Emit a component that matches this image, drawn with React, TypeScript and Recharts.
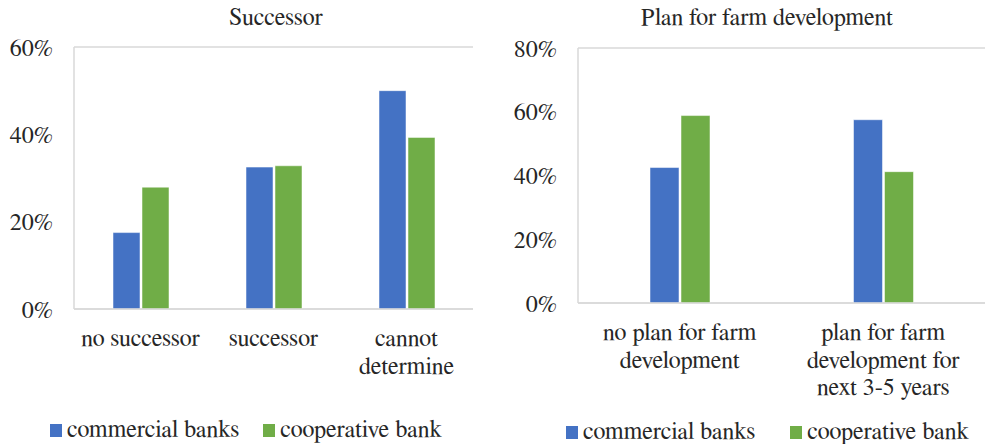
import React from 'react';
import { BarChart, Bar, XAxis, YAxis, CartesianGrid } from 'recharts';

const seriesNames = ['commercial banks', 'cooperative bank'];
const seriesColors = ['#4472C4', '#70AD47'];

const successorCategories = ['no successor', 'successor', 'cannot\ndetermine'];
const successorCommercial = [17.5, 32.5, 50.0];
const successorCooperative = [27.9, 32.8, 39.3];
const successorTicks = [0, 20, 40, 60];

const planCategories = ['no plan for farm\ndevelopment', 'plan for farm\ndevelopment for\nnext 3-5 years'];
const planCommercial = [42.5, 57.5];
const planCooperative = [58.8, 41.2];
const planTicks = [0, 20, 40, 60, 80];

const FONT = 'FreeSerif, "Liberation Serif", "Times New Roman", serif';
const TEXT = '#262626';
const GRID = '#d9d9d9';

const build = (cats: string[], a: number[], b: number[]) =>
  cats.map((name, i) => ({ name, commercial: a[i], cooperative: b[i] }));

const successorData = build(successorCategories, successorCommercial, successorCooperative);
const planData = build(planCategories, planCommercial, planCooperative);

const CategoryTick = (props: any) => {
  const { x, y, payload, first } = props;
  const lines = String(payload.value).split('\n');
  return (
    <text x={x} y={y + first} textAnchor="middle" fill={TEXT} fontSize={24} fontFamily={FONT}>
      {lines.map((l, i) => (
        <tspan key={i} x={x} dy={i === 0 ? 0 : 27.5}>
          {l}
        </tspan>
      ))}
    </text>
  );
};

const LegendRow = ({ left, top, gap }: { left: number; top: number; gap: number }) => (
  <div style={{ position: 'absolute', left, top, display: 'flex', alignItems: 'center', fontFamily: FONT, fontSize: 24, color: TEXT, whiteSpace: 'nowrap' }}>
    {seriesNames.map((n, i) => (
      <div key={n} style={{ display: 'flex', alignItems: 'center', marginRight: gap }}>
        <span style={{ display: 'inline-block', width: 12, height: 13, background: seriesColors[i], marginRight: 5 }} />
        <span>{n}</span>
      </div>
    ))}
  </div>
);

const Title = ({ text, center }: { text: string; center: number }) => (
  <div style={{ position: 'absolute', left: center - 200, width: 400, top: 5, textAlign: 'center', fontFamily: FONT, fontSize: 24, color: TEXT }}>
    {text}
  </div>
);

const Panel = ({ data, ticks, max, barSize, yWidth, margin, width, bottomPad, firstLine }: any) => (
  <BarChart width={width} height={444} data={data} margin={margin} barGap={2} barSize={barSize}>
    <CartesianGrid vertical={false} stroke={GRID} strokeWidth={1.3} />
    <XAxis
      dataKey="name"
      axisLine={{ stroke: GRID, strokeWidth: 1.5 }}
      tickLine={false}
      tickSize={0}
      tickMargin={0}
      height={bottomPad}
      interval={0}
      tick={<CategoryTick first={firstLine} />}
    />
    <YAxis
      yAxisId="l"
      domain={[0, max]}
      ticks={ticks}
      width={yWidth}
      tickFormatter={(v: number) => `${v}%`}
      axisLine={{ stroke: GRID, strokeWidth: 1.5 }}
      tickLine={false}
      tickSize={0}
      tickMargin={21}
      tick={{ fill: TEXT, fontSize: 24, fontFamily: FONT }}
    />
    <YAxis
      yAxisId="r"
      orientation="right"
      domain={[0, max]}
      width={0}
      tick={false}
      tickLine={false}
      axisLine={{ stroke: GRID, strokeWidth: 1.5 }}
    />
    <Bar yAxisId="l" dataKey="commercial" name={seriesNames[0]} fill={seriesColors[0]} stroke="#ffffff" strokeOpacity={0.5} isAnimationActive={false} />
    <Bar yAxisId="l" dataKey="cooperative" name={seriesNames[1]} fill={seriesColors[1]} stroke="#ffffff" strokeOpacity={0.5} isAnimationActive={false} />
  </BarChart>
);

export default function App() {
  return (
    <div style={{ position: 'absolute', left: 0, top: 0, width: 985, height: 444, background: '#fff', overflow: 'hidden' }}>
      <div style={{ position: 'absolute', left: 0, top: 0 }}>
        <Panel
          data={successorData}
          ticks={successorTicks}
          max={60}
          barSize={27}
          yWidth={74}
          width={490}
          margin={{ top: 47, right: 17, left: 0, bottom: 0 }}
          bottomPad={135}
          firstLine={37}
        />
      </div>
      <div style={{ position: 'absolute', left: 490, top: 0 }}>
        <Panel
          data={planData}
          ticks={planTicks}
          max={80}
          barSize={29}
          yWidth={88}
          width={497}
          margin={{ top: 48, right: 2, left: 0, bottom: 0 }}
          bottomPad={141}
          firstLine={37}
        />
      </div>
      <Title text="Successor" center={276} />
      <Title text="Plan for farm development" center={767} />
      <LegendRow left={50} top={417} gap={24} />
      <LegendRow left={566} top={419} gap={35} />
    </div>
  );
}
